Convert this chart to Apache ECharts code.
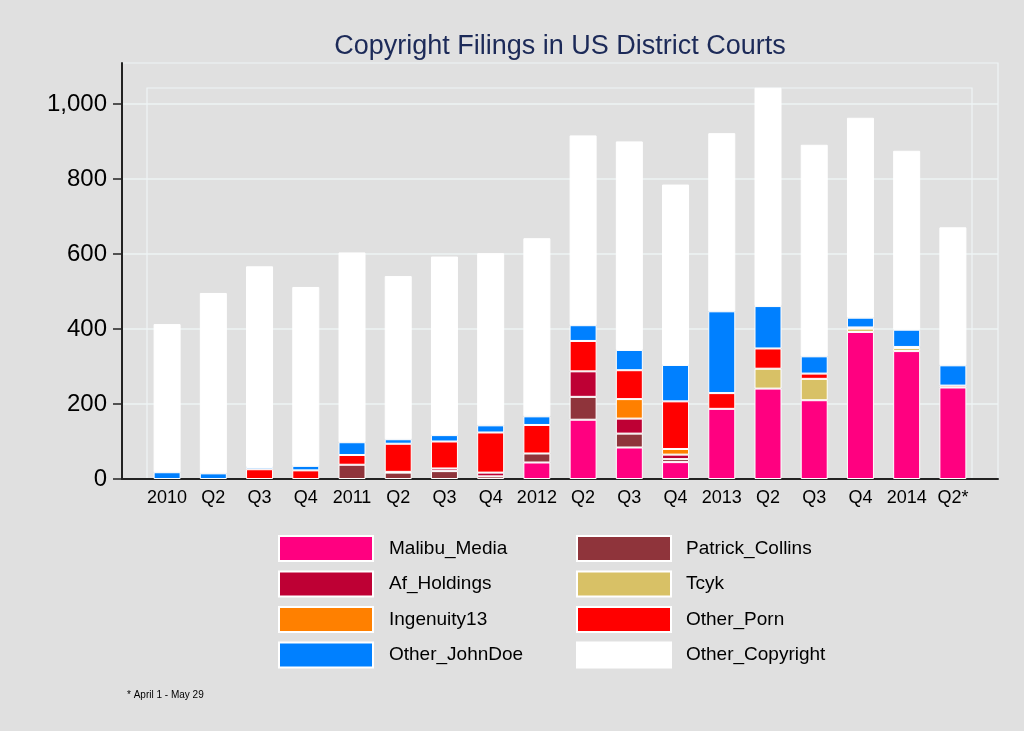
<!DOCTYPE html>
<html>
<head>
<meta charset="utf-8">
<script src="https://cdn.jsdelivr.net/npm/echarts@6/dist/echarts.min.js"></script>
<style>
html,body{margin:0;padding:0;background:#e0e0e0;}
#c{width:1024px;height:731px;}
</style>
</head>
<body>
<div id="c"></div>
<script>
var categories = ['2010','Q2','Q3','Q4','2011','Q2','Q3','Q4','2012','Q2','Q3','Q4','2013','Q2','Q3','Q4','2014','Q2*'];
var malibuMedia    = [0,0,0,0,0,0,0,0,44,158,84,45,187,241,210,392,341,244];
var patrickCollins = [0,0,0,0,38,17,21,7,24,61,37,8,0,0,0,0,0,0];
var afHoldings     = [0,0,0,0,0,2,7,10,0,68,40,12,0,0,0,0,0,0];
var tcyk           = [0,0,0,0,0,0,0,0,0,0,0,0,0,53,57,9,8,0];
var ingenuity13    = [0,0,0,0,0,0,0,0,0,0,52,15,0,0,0,0,0,0];
var otherPorn      = [0,0,26,23,26,75,72,107,76,81,77,127,42,54,14,3,3,5];
var otherJohnDoe   = [18,15,6,12,34,12,17,19,23,42,54,97,218,113,46,26,46,54];
var otherCopyright = [395,481,535,477,506,435,476,459,475,506,556,481,475,582,564,533,477,368];
var yTicks = [0,200,400,600,800,1000];

var seriesDefs = [
  ['Malibu_Media', malibuMedia, '#ff0080'],
  ['Patrick_Collins', patrickCollins, '#8f343b'],
  ['Af_Holdings', afHoldings, '#be0034'],
  ['Tcyk', tcyk, '#d8c166'],
  ['Ingenuity13', ingenuity13, '#ff8000'],
  ['Other_Porn', otherPorn, '#ff0000'],
  ['Other_JohnDoe', otherJohnDoe, '#0080ff'],
  ['Other_Copyright', otherCopyright, '#ffffff']
];

var FONT = 'Liberation Sans, Arial, Helvetica, sans-serif';
var frameColor = '#eef4f5';

var chart = echarts.init(document.getElementById('c'), null, {renderer:'canvas'});
var option = {
  backgroundColor: '#e0e0e0',
  animation: false,
  title: [
    {text: 'Copyright Filings in US District Courts', left: 555, textAlign: 'center', top: 28,
     textStyle: {fontFamily: FONT, fontSize: 27, fontWeight: 'normal', color: '#1c2a58'}},
    {text: '* April 1 - May 29', left: 122, top: 685,
     textStyle: {fontFamily: FONT, fontSize: 10, fontWeight: 'normal', color: '#000'}}
  ],
  legend: [
    {data: ['Malibu_Media','Af_Holdings','Ingenuity13','Other_JohnDoe'],
     orient: 'vertical', left: 273, top: 530, itemWidth: 94, itemHeight: 25, itemGap: 8.5,
     icon: 'rect', selectedMode: false,
     textStyle: {fontFamily: FONT, fontSize: 19, color: '#000', padding: [0,0,0,11]}},
    {data: ['Patrick_Collins','Tcyk','Other_Porn','Other_Copyright'],
     orient: 'vertical', left: 571, top: 530, itemWidth: 94, itemHeight: 25, itemGap: 8.5,
     icon: 'rect', selectedMode: false,
     textStyle: {fontFamily: FONT, fontSize: 19, color: '#000', padding: [0,0,0,10]}}
  ],
  grid: [
    {left: 144, top: 63, width: 832, height: 416},
    {left: 122, top: 63, width: 876, height: 416, show: true, borderColor: frameColor, borderWidth: 1.2, backgroundColor: 'transparent'},
    {left: 147, top: 88, width: 825, height: 391, show: true, borderColor: frameColor, borderWidth: 1.2, backgroundColor: 'transparent'}
  ],
  xAxis: [
    {type: 'category', gridIndex: 0, data: categories,
     axisLine: {show: false}, axisTick: {show: false},
     axisLabel: {fontFamily: FONT, fontSize: 18, color: '#000', margin: 10, interval: 0}},
    {type: 'value', gridIndex: 1, min: 0, max: 1,
     axisLine: {show: true, lineStyle: {color: '#222', width: 2}},
     axisTick: {show: false}, axisLabel: {show: false}, splitLine: {show: false}},
    {type: 'value', gridIndex: 2, min: 0, max: 1, show: false}
  ],
  yAxis: [
    {type: 'value', gridIndex: 0, min: 0, max: 1109, show: false, splitLine: {show: false}},
    {type: 'value', gridIndex: 1, min: 0, max: 1109, interval: 200,
     axisLine: {show: true, lineStyle: {color: '#222', width: 2}},
     axisTick: {show: true, length: 9, customValues: yTicks, lineStyle: {color: '#222', width: 1.5}},
     axisLabel: {fontFamily: FONT, fontSize: 24, color: '#000', margin: 15, customValues: yTicks,
       formatter: function (v) { return yTicks.indexOf(v) >= 0 ? v.toLocaleString('en-US') : ''; }},
     splitLine: {show: true, lineStyle: {color: frameColor, width: 1.5}}},
    {type: 'value', gridIndex: 2, min: 0, max: 1, show: false}
  ],
  series: seriesDefs.map(function (d) {
    return {
      name: d[0], type: 'bar', stack: 'total', xAxisIndex: 0, yAxisIndex: 0,
      barWidth: 27,
      data: d[1].map(function (v) { return v > 0 ? v : null; }),
      itemStyle: {color: d[2], borderColor: '#ffffff', borderWidth: 1},
      emphasis: {disabled: true}
    };
  })
};
chart.setOption(option);
</script>
</body>
</html>
